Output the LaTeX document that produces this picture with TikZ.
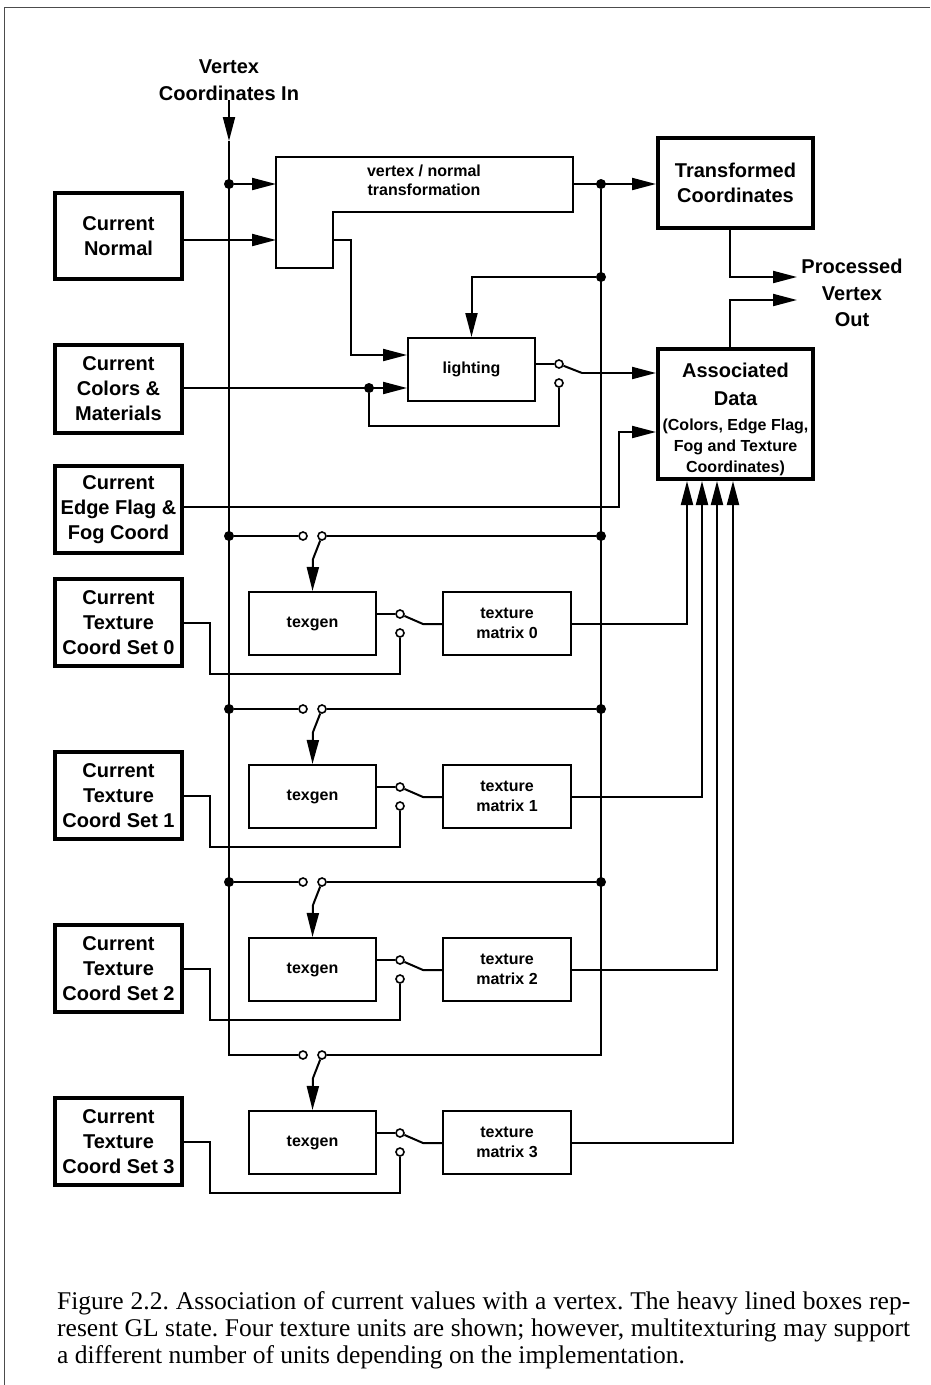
\documentclass[tikz,border=0pt]{standalone}
\usepackage{fontspec}
\setmainfont{Liberation Serif}
\setsansfont{Liberation Sans}
\usetikzlibrary{arrows.meta}

\newcommand\adsmall{\fontsize{16}{21}\selectfont}

\tikzset{
  wire/.style={line width=2pt},
  flow/.style={line width=2pt,-{Triangle[length=24pt,width=12pt]}},
  state/.style={draw,line width=4pt,minimum width=127pt,minimum height=87pt,inner sep=0pt,align=center,font=\sffamily\bfseries\fontsize{20}{25}\selectfont},
  unit/.style={draw,line width=2pt,minimum width=127pt,minimum height=63pt,inner sep=0pt,align=center,font=\sffamily\bfseries\fontsize{16}{20}\selectfont},
  tag/.style={align=center,inner sep=0pt,font=\sffamily\bfseries\fontsize{20}{26.5}\selectfont},
  dot/.style={circle,fill,inner sep=0pt,minimum size=10pt},
  contact/.style={circle,draw,fill=white,line width=1.6pt,inner sep=0pt,minimum size=8pt},
}

\begin{document}
\begin{tikzpicture}[x=1pt,y=-1pt]
\useasboundingbox (0,0) rectangle (930,1385);
\draw[line width=1pt,black!70] (4,1385) -- (4,7) -- (930,7);

% labels in and out
\node[tag] (vci) at (229,80) {Vertex\\Coordinates In};
\node[tag] (pvo) at (852,293) {Processed\\Vertex\\Out};

% GL state
\node[state,minimum height=86pt] (cn) at (118.5,236) {Current\\Normal};
\node[state,minimum height=88pt] (ccm) at (118.5,389) {Current\\Colors \&\\Materials};
\node[state,minimum height=87pt] (cef) at (118.5,509.5) {Current\\Edge Flag \&\\Fog Coord};
\node[state,minimum width=155pt,minimum height=90pt] (tco) at (735.5,183) {Transformed\\Coordinates};
\node[state,minimum width=155pt,minimum height=130pt] (ad) at (735.5,414) {};
\node[tag,font=\sffamily\bfseries\fontsize{20}{25}\selectfont] (adtext) at ([yshift=-5pt]ad.center)
  {Associated\\[3pt]Data\\[0pt]\adsmall(Colors, Edge Flag,\\[-4pt]\adsmall Fog and Texture\\[-4pt]\adsmall Coordinates)};

% vertex / normal transformation
\draw[wire] (276,157) -- (573,157) -- (573,212) -- (333,212) -- (333,268) -- (276,268) -- cycle;
\node[align=center,font=\sffamily\bfseries\fontsize{16}{19}\selectfont] (vnt) at (424,180) {vertex / normal\\transformation};
\coordinate (vin1) at (276,184);
\coordinate (vin2) at (276,240);
\coordinate (vout) at (573,184);
\coordinate (vnorm) at (333,240);
\coordinate (lin) at (351,355);

\node[dot] (d1) at (229,184) {};
\node[dot] (d2) at (601,184) {};
\node[dot] (d3) at (601,277) {};
\draw[flow] (d1) -- (vin1);
\draw[flow] (cn.east |- vin2) -- (vin2);
\draw[flow] (vout) -- (tco.west |- vout);

% lighting
\node[unit] (light) at (471.5,369.5) {lighting};
\draw[flow] (vnorm) -| (lin) -- (lin -| light.west);
\draw[flow] (d3) -| (light.north);
\node[dot] (d4) at (369,388) {};
\draw[flow] (ccm.east |- d4) -- (light.west |- d4);
\node[contact] (la) at (559,364) {};
\node[contact] (lb) at (559,383) {};
\coordinate (larm) at (582,373);
\coordinate (lloop) at (559,426);
\draw[wire] (light.east |- la) -- (la);
\draw[wire] (la) -- (larm);
\draw[flow] (larm) -- (ad.west |- larm);
\draw[wire] (d4) |- (lloop) -- (lb);

% edge flag
\coordinate (efk) at (619,432);
\coordinate (efo) at (184,507);
\draw[flow] (cef.east |- efo) -| (efk) -- (efk -| ad.west);

% processed vertex out
\coordinate (out1) at (797,277);
\coordinate (out2) at (797,300);
\draw[flow] ([xshift=-5.5pt]tco.south) |- (out1);
\draw[flow] ([xshift=-5.5pt]ad.north) |- (out2);

% texture units
\coordinate (adin0) at ([xshift=-48.5pt]ad.south);
\coordinate (adin1) at ([xshift=-33.5pt]ad.south);
\coordinate (adin2) at ([xshift=-18.5pt]ad.south);
\coordinate (adin3) at ([xshift=-2.5pt]ad.south);
\foreach \k in {0,...,3}{
  \begin{scope}[yshift=-173*\k]
  \node[state] (ts\k) at (118.5,622.5) {Current\\Texture\\Coord Set \k};
  \node[unit] (tg\k) at (312.5,623.5) {texgen};
  \node[unit,minimum width=128pt] (tm\k) at (507,623.5) {texture\\matrix \k};
  \node[contact] (sl\k) at (303,536) {};
  \node[contact] (sr\k) at (322,536) {};
  \node[contact] (ta\k) at (400,614) {};
  \node[contact] (tb\k) at (400,633) {};
  \coordinate (sarm\k) at (313,559);
  \coordinate (tarm\k) at (423,624);
  \coordinate (tin\k) at (210,674);
  \draw[wire] (sr\k) -- (sarm\k);
  \draw[flow] (sarm\k) -- (tg\k.north);
  \draw[wire] (tg\k.east |- ta\k) -- (ta\k);
  \draw[wire] (ta\k) -- (tarm\k) -- (tm\k.west |- tarm\k);
  \draw[wire] (ts\k.east) -| (tin\k) -| (tb\k);
  \draw[flow] (tm\k.east) -| (adin\k);
  \ifnum\k<3
    \node[dot] (dl\k) at (229,536) {};
    \node[dot] (dr\k) at (601,536) {};
    \draw[wire] (dl\k) -- (sl\k);
    \draw[wire] (sr\k) -- (dr\k);
  \fi
  \end{scope}
}

% buses
\coordinate (bl) at (229,141);
\draw[flow] (vci.south) -- (bl);
\draw[wire] (bl) |- (sl3);
\draw[wire] (sr3) -| (d2);

% caption
\node[anchor=north west,inner sep=0pt,text width=853pt,align=justify,font=\fontsize{25.5}{27}\selectfont\frenchspacing] (cap) at (57,1291)
  {Figure 2.2. Association of current values with a vertex. The heavy lined boxes rep-\linebreak
   resent GL state. Four texture units are shown; however, multitexturing may support\linebreak
   a different number of units depending on the implementation.};
\end{tikzpicture}
\end{document}
